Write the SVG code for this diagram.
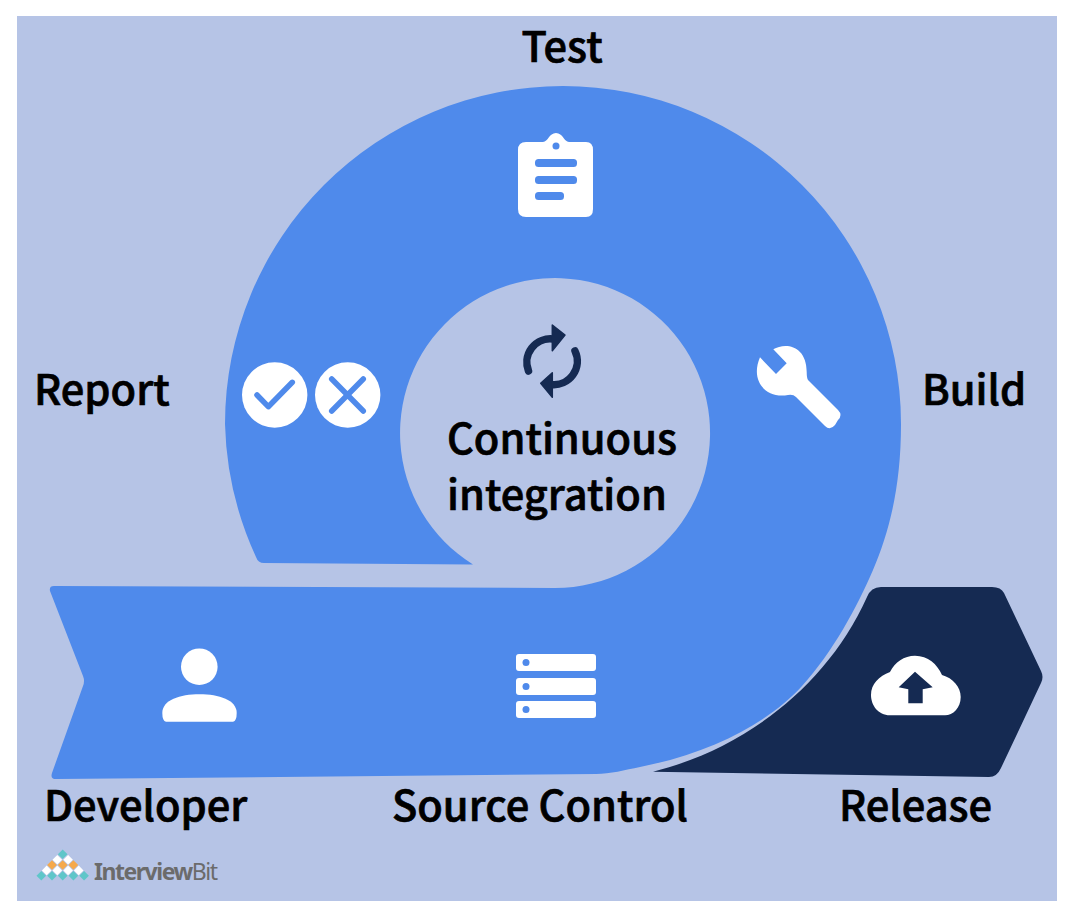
<svg xmlns="http://www.w3.org/2000/svg" width="1076" height="920" viewBox="0 0 1076 920">
<style>
.l{font-family:"Noto Sans CJK SC","Noto Sans",sans-serif;font-weight:500;font-size:41.600px;fill:#000;stroke:#000;stroke-width:.7px}
.w{fill:#fff}.b{fill:#4f8aeb}.d{fill:#152a52}
.t{fill:#5fc6c9}.o{fill:#f5a94b}
</style>
<rect width="1076" height="920" fill="#fff"/>
<rect x="17" y="16" width="1040" height="885" fill="#b6c4e6"/>
<g id="spiral"><path class="b" d="M54 586L555 588A155 155 0 1 0 473 564.500L264 563Q258 563 256 557A338 338 0 0 1 225 424A338 338 0 0 1 563 86A338 338 0 0 1 901 424C901 485 890 530 873 570C857 607 833 652 802 686C770 721 715 752 640 767C625 770 610 774 596 774L56 779Q50 779 52 773L83 686Q85 681 83 676L50 591Q49 586 54 586Z"/></g>
<g id="release"><path class="d" d="M653 771.700C740 750 825 690 867 597Q871 587 881 587H992Q1001 587 1004 593L1041 671Q1044 677 1041 683L1001 768Q997 777 989 777Z"/>
<path class="w" d="M890 715.300C878 715.300 871 705 871 695C871 684 879 676 890 672C895 662 904 655.700 915 655.700C928 655.700 937 664 942 675C953 678 960.700 687 960.700 697C960.700 708 953 715.300 945 715.300Z"/>
<path class="d" d="M915 671.700L932.700 687.300L922.700 689.300V703.300H908.300V689.300L898.700 687.300Z"/>
<text class="l" x="839" y="821">Release</text></g>
<g id="developer"><circle class="w" cx="199.300" cy="666.700" r="18.300"/><path class="w" d="M166 721.700Q162.300 721 162.300 713C162.300 700 180 694.300 199.500 694.300C219 694.300 236.700 700 236.700 713Q236.700 721 233 721.700Z"/>
<text class="l" x="44" y="821">Developer</text></g>
<g id="source-control"><rect class="w" x="516" y="654" width="80" height="17" rx="3"/><rect class="w" x="516" y="678" width="80" height="17" rx="3"/><rect class="w" x="516" y="701" width="80" height="17" rx="3"/>
<circle class="b" cx="526" cy="662.500" r="3.500"/><circle class="b" cx="526" cy="686.500" r="3.500"/><circle class="b" cx="526" cy="709.500" r="3.500"/>
<text class="l" x="392" y="821">Source Control</text></g>
<g id="test"><path class="w" d="M526 142H543C548 142 549 133 556 133C563 133 564 142 569 142H586Q593 142 593 150V209Q593 217 586 217H526Q518 217 518 209V150Q518 142 526 142Z"/>
<circle class="b" cx="556" cy="146" r="3.500"/>
<rect class="b" x="535" y="159" width="42" height="8" rx="3.500"/><rect class="b" x="535" y="176" width="42" height="8" rx="3.500"/><rect class="b" x="535" y="192" width="29" height="8" rx="3.500"/>
<text class="l" x="562" y="62" text-anchor="middle">Test</text></g>
<g id="build"><path class="w" d="M760 357.300L776 374L786.700 363.300L773.300 349.300C785 342 806.700 345 806.700 372Q806.700 378 808 380L838 410Q843 415 838 420L835 425Q830 431 825 426L796 397Q793 394 788 395C765 399 750 380 760 357.300Z"/>
<text class="l" x="922" y="405">Build</text></g>
<g id="report"><circle class="w" cx="274.700" cy="395" r="32.700"/><circle class="w" cx="347.700" cy="395" r="32.700"/>
<path d="M257 395L268.300 406.700L292.300 382.300M331.700 379L363.300 411M363.300 379L331.700 411" fill="none" stroke="#4f8aeb" stroke-width="5.500" stroke-linecap="round" stroke-linejoin="round"/>
<text class="l" x="34" y="405">Report</text></g>
<g id="center"><path d="M528.500 371A23.500 23.500 0 0 1 553 339M575 351A23.500 23.500 0 0 1 551 384.500" fill="none" stroke="#152a52" stroke-width="7.500" stroke-linecap="round"/>
<path class="d" d="M552.300 325L565 335L552.300 350.700ZM552.300 372.700L540.700 383.300L552.300 397.300Z" stroke="#152a52" stroke-width="1.500" stroke-linejoin="round"/>
<text class="l" x="447" y="454">Continuous</text><text class="l" x="447" y="510">integration</text></g>
<g id="logo">
<g class="t"><path d="M62.700 849.500L67.500 854.300L62.700 859.100L57.900 854.300Z"/><path d="M62.700 871L67.500 875.800L62.700 880.600L57.900 875.800Z"/><path d="M52 871L56.800 875.800L52 880.600L47.200 875.800Z"/><path d="M41.300 871L46.100 875.800L41.300 880.600L36.500 875.800Z"/><path d="M73.400 871L78.200 875.800L73.400 880.600L68.600 875.800Z"/><path d="M84.100 871L88.900 875.800L84.100 880.600L79.300 875.800Z"/></g>
<g class="w"><path d="M57.300 854.900L62.100 859.700L57.300 864.500L52.500 859.700Z"/><path d="M68.100 854.900L72.900 859.700L68.100 864.500L63.300 859.700Z"/><path d="M46.700 865.600L51.500 870.400L46.700 875.200L41.900 870.400Z"/><path d="M57.300 865.600L62.100 870.400L57.300 875.200L52.500 870.400Z"/><path d="M68.100 865.600L72.900 870.400L68.100 875.200L63.300 870.400Z"/><path d="M78.700 865.600L83.500 870.400L78.700 875.200L73.900 870.400Z"/></g>
<g class="o"><path d="M52 860.200L56.800 865L52 869.800L47.200 865Z"/><path d="M62.700 860.200L67.500 865L62.700 869.800L57.900 865Z"/><path d="M73.400 860.200L78.200 865L73.400 869.800L68.600 865Z"/></g>
</g>
<text x="94" y="880" font-family="'Noto Sans','Open Sans',sans-serif" font-size="23" font-weight="700" fill="#6b6b6b" textLength="124">Interview<tspan font-weight="400">Bit</tspan></text>
</svg>
